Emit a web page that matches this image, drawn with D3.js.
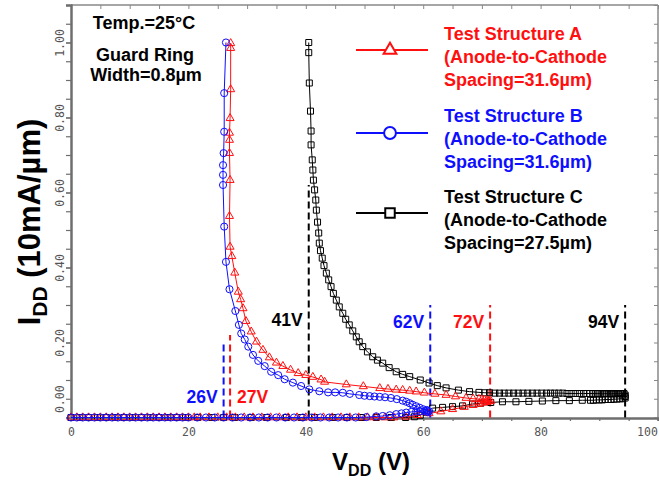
<!DOCTYPE html>
<html><head><meta charset="utf-8">
<script src="https://cdn.jsdelivr.net/npm/d3@7"></script>
<style>
html,body{margin:0;padding:0;background:#fff;}
svg{display:block;font-family:"Liberation Sans",Arial,sans-serif;}
</style></head>
<body><svg id="c" width="659" height="484"></svg>
<script>
// ---------- data (V in volts, I in 10mA/um) ----------
const offA = [0,1,2,3,4,5,6,7,8,9,10,11,12,13,14,15,16,17,18,19,20,21,22,23.5,25,26.5,28,29.5,31,32.5,34,35.5,37,38.5,40,41.5,43,44.5,46,47.5,49,50.5,52,53.5,55];
const lowA = [[57,0.002],[59,0.006],[61,0.011],[63,0.016],[65,0.022],[67,0.028],[68.5,0.033],[69.5,0.036],[70.2,0.039],[70.8,0.041],[71.2,0.043]];
const upA = [[71.5,0.044],[71.2,0.045],[70.8,0.046],[70.4,0.047],[70.0,0.048],[69.5,0.049],[68.5,0.050],[67.3,0.052],[65.5,0.056],[63.9,0.060],[62.0,0.063],[60.2,0.066],[58.8,0.069],[57.7,0.071],[56.5,0.073],[55.4,0.074],[54.0,0.076],[52.6,0.078],[49.8,0.083],[46.9,0.088],[43.2,0.095],[42.6,0.101],[41.2,0.108],[40.0,0.113],[38.7,0.118],[37.4,0.127],[36.1,0.137],[35.0,0.146],[33.8,0.160],[32.7,0.180],[31.6,0.202],[30.7,0.229],[29.8,0.257],[29.3,0.291],[28.9,0.315],[28.5,0.335],[27.9,0.386],[27.4,0.430],[27.1,0.455],[27.0,0.537],[27.1,0.633],[27.0,0.705],[27.0,0.740],[27.0,0.759],[27.1,0.798],[27.2,0.875],[27.2,0.985],[27.2,0.998]];

const offB = [0,1,2,3,4,5,6,7,8,9,10,11,12,13,14,15,16,17,18,19,20,21.5,23,24.5,26,27.5,29,30.5,32,33.5,35,36.5,38,39.5,41,42.5,44,45.5,47];
const lowB = [[48.5,0.000],[50.3,0.001],[52,0.003],[53.1,0.004],[54.3,0.006],[55.4,0.009],[56.3,0.011],[57.1,0.013],[58,0.015],[58.8,0.016],[59.5,0.017],[60.2,0.017],[60.7,0.018],[61.0,0.017]];
const upB = [[60.8,0.014],[60.6,0.020],[60.0,0.022],[59.4,0.026],[58.8,0.030],[58.2,0.034],[57.7,0.038],[57.1,0.042],[56.5,0.045],[55.5,0.049],[54.5,0.052],[53.5,0.054],[52.6,0.055],[51.7,0.056],[50.9,0.057],[50.0,0.058],[49.1,0.060],[47.5,0.063],[46.3,0.066],[45.0,0.067],[43.8,0.067],[42.3,0.070],[40.6,0.075],[39.2,0.084],[37.8,0.093],[36.4,0.102],[35.3,0.113],[34.1,0.122],[33.0,0.137],[31.9,0.151],[31.0,0.167],[30.2,0.189],[29.6,0.208],[29.0,0.224],[28.6,0.247],[28.0,0.284],[27.0,0.342],[26.4,0.415],[26.1,0.509],[25.9,0.620],[25.9,0.647],[25.9,0.673],[26.0,0.705],[26.1,0.762],[26.1,0.865],[26.4,1.000]];

const offC = [0,1.5,3,4.5,6,7.5,9,10.5,12,13.5,15,16.5,18,19.5,21.6,24,26,27.9,30.7,33.3,36.7,39.2,41.5,44.6,47,49.5,52,54.5,57];
const lowC = [[58.5,0.002],[59.5,0.006],[60.5,0.014],[61.6,0.025],[63.3,0.027],[65,0.029],[66.7,0.031],[68.4,0.036],[69.8,0.038],[71.5,0.040],[73.5,0.042],[75.8,0.042],[78,0.043],[80.3,0.044],[82.6,0.045],[84.9,0.045],[87.1,0.046],[88.5,0.046],[89,0.046],[89.5,0.047],[90,0.047],[90.5,0.047],[91,0.048],[91.5,0.048],[92,0.048],[92.5,0.049],[93,0.049],[93.5,0.050],[94,0.050],[94.4,0.052]];
const upC = [[94.4,0.056],[94.4,0.060],[94.2,0.064],[93.9,0.063],[93.6,0.064],[93.3,0.063],[93.0,0.064],[92.7,0.063],[92.4,0.064],[92.1,0.063],[91.8,0.064],[91.5,0.063],[91.2,0.064],[90.9,0.064],[90.5,0.063],[90.1,0.064],[89.7,0.064],[89.3,0.064],[88.9,0.064],[88.4,0.064],[87.9,0.064],[87.3,0.064],[86.6,0.064],[85.9,0.064],[85.2,0.064],[84.5,0.064],[83.8,0.065],[83.1,0.065],[82.4,0.065],[81.7,0.065],[81.0,0.065],[80.2,0.065],[79.4,0.065],[78.6,0.065],[77.8,0.065],[77.0,0.065],[76.2,0.065],[75.4,0.065],[74.6,0.065],[73.8,0.065],[73.0,0.065],[72.2,0.065],[71.3,0.066],[70.5,0.066],[69.5,0.067],[67.9,0.069],[66.0,0.073],[63.9,0.079],[62.4,0.085],[61.0,0.092],[59.5,0.100],[57.7,0.109],[56.5,0.115],[55.4,0.122],[54.2,0.133],[53.1,0.145],[52.2,0.153],[51.4,0.162],[50.5,0.175],[49.7,0.189],[49.1,0.202],[48.6,0.215],[48.0,0.231],[47.4,0.247],[46.8,0.262],[46.3,0.278],[45.7,0.295],[45.2,0.313],[44.7,0.331],[44.3,0.349],[43.9,0.367],[43.5,0.385],[43.1,0.405],[42.8,0.425],[42.5,0.445],[42.3,0.465],[42.2,0.492],[42.0,0.521],[41.8,0.553],[41.7,0.580],[41.5,0.607],[41.3,0.633],[41.2,0.660],[41.1,0.687],[40.9,0.727],[40.9,0.764],[40.8,0.817],[40.6,0.892],[40.5,0.973],[40.5,1.000]];

const seriesNames = ["Test Structure A","Test Structure B","Test Structure C"];
const seriesSpacing = ["(Anode-to-Cathode","(Anode-to-Cathode","(Anode-to-Cathode"];
const seriesSpacing2 = ["Spacing=31.6\u00b5m)","Spacing=31.6\u00b5m)","Spacing=27.5\u00b5m)"];

const dashV = [26.0, 27.1, 40.5, 61.2, 71.4, 94.4];
const dashTop = [0.20, 0.22, 0.62, 0.30, 0.30, 0.30];
const dashLabels = ["26V","27V","41V","62V","72V","94V"];
const dashLabelI = [0.038, 0.038, 0.244, 0.239, 0.239, 0.239];

const xTicks = [0,20,40,60,80,100];
const yTicks = [0,0.2,0.4,0.6,0.8,1.0];

// ---------- drawing ----------
const svg = d3.select("#c");
const x = d3.scaleLinear().domain([0,100]).range([71,658]);
const y = d3.scaleLinear().domain([0,1.1]).range([417.5,5]);

const RED="#ff0f0f", BLUE="#0f0fff", BLK="#000";
const dashColors=[BLUE,RED,BLK,BLUE,RED,BLK];
const dashSide=["l","r","l","l","l","l"];

// frame top/right
const axCol="#6e6e6e";
svg.append("line").attr("x1",71).attr("x2",658).attr("y1",5).attr("y2",5).attr("stroke","#888").attr("stroke-width",1.5);
svg.append("line").attr("x1",658).attr("x2",658).attr("y1",5).attr("y2",418).attr("stroke","#888").attr("stroke-width",1.5);

const minorX = d3.range(0,101,5), minorY = d3.range(0,1.101,0.05);
const gTop = svg.append("g").attr("transform","translate(0,5)")
  .call(d3.axisTop(x).tickValues(minorX).tickSize(-4).tickFormat(""));
const gRight = svg.append("g").attr("transform","translate(658,0)")
  .call(d3.axisRight(y).tickValues(minorY).tickSize(-4).tickFormat(""));
[gTop,gRight].forEach(g=>{g.select(".domain").remove();g.selectAll("line").attr("stroke","#888");});

// bottom axis
const gx = svg.append("g").attr("transform","translate(0,418)")
  .call(d3.axisBottom(x).tickValues(minorX).tickSize(3).tickFormat(""));
const gxl = svg.append("g").attr("transform","translate(0,418)")
  .call(d3.axisBottom(x).tickValues(xTicks).tickSize(3).tickFormat(d3.format("d")));
// left axis
const gy = svg.append("g").attr("transform","translate(71,0)")
  .call(d3.axisLeft(y).tickValues(minorY).tickSize(5).tickFormat(""));
const gyl = svg.append("g").attr("transform","translate(71,0)")
  .call(d3.axisLeft(y).tickValues(yTicks).tickSize(5).tickFormat(d3.format(".2f")));
[gx,gxl,gy,gyl].forEach(g=>{
  g.select(".domain").attr("stroke",axCol).attr("stroke-width",2);
  g.selectAll("line").attr("stroke",axCol).attr("stroke-width",1.2);
});
gxl.selectAll("text").attr("font-family","'DejaVu Sans Mono',monospace").attr("font-size",11.5)
  .attr("fill","#555").attr("y",10)
  .attr("dx",d=>d===100?-11:0);
gyl.selectAll("text").attr("font-family","'DejaVu Sans Mono',monospace").attr("font-size",11.5)
  .attr("fill","#555").attr("x",0).attr("dy",0).attr("text-anchor","middle")
  .attr("transform",d=>`translate(-7,${d===0?-18.75:0}) rotate(-90)`);

// dashed reference lines
dashV.forEach((v,i)=>{
  svg.append("line").attr("x1",x(v)).attr("x2",x(v)).attr("y1",y(0)).attr("y2",y(dashTop[i]))
    .attr("stroke",dashColors[i]).attr("stroke-width",2).attr("stroke-dasharray","7,4");
  svg.append("text").attr("x",x(v)+(dashSide[i]==="l"?-6:7)).attr("y",y(dashLabelI[i]))
    .attr("text-anchor",dashSide[i]==="l"?"end":"start")
    .attr("font-size",17.5).attr("font-weight","bold").attr("fill",dashColors[i]).text(dashLabels[i]);
});

// series
const line = d3.line().x(d=>x(d[0])).y(d=>y(d[1]));
const dataA = offA.map(v=>[v,0]).concat(lowA,upA);
const dataB = offB.map(v=>[v,0]).concat(lowB,upB);
const dataC = offC.map(v=>[v,0]).concat(lowC,upC);
const series = [
  {d:dataC,c:BLK,sym:d3.symbolSquare,size:36},
  {d:dataA,c:RED,sym:d3.symbolTriangle,size:28},
  {d:dataB,c:BLUE,sym:d3.symbolCircle,size:40}
];
series.forEach(s=>{
  svg.append("path").datum(s.d).attr("d",line).attr("fill","none").attr("stroke",s.c).attr("stroke-width",1);
  svg.append("g").selectAll("path").data(s.d).join("path")
    .attr("transform",d=>`translate(${x(d[0])},${y(d[1])})`)
    .attr("d",d3.symbol(s.sym,s.size)).attr("fill","none").attr("stroke",s.c).attr("stroke-width",1);
});

// legend
const legCols=[RED,BLUE,BLK], legSyms=[d3.symbolTriangle,d3.symbolCircle,d3.symbolSquare], legSizes=[70,110,90];
const legY=[50,133,213], legBase=[40,122,203];
for(let i=0;i<3;i++){
  svg.append("line").attr("x1",356).attr("x2",428).attr("y1",legY[i]).attr("y2",legY[i]).attr("stroke",legCols[i]).attr("stroke-width",2);
  svg.append("path").attr("transform",`translate(390,${legY[i]})`).attr("d",d3.symbol(legSyms[i],legSizes[i]))
    .attr("fill","#fff").attr("stroke",legCols[i]).attr("stroke-width",2);
  const t = svg.append("text").attr("x",444).attr("y",legBase[i]).attr("font-size",18).attr("font-weight","bold").attr("fill",legCols[i]);
  [seriesNames[i],seriesSpacing[i],seriesSpacing2[i]].forEach((s,k)=>t.append("tspan").attr("x",444).attr("dy",k?23:0).text(s));
}

// annotations
const ann = svg.append("text").attr("font-size",18).attr("font-weight","bold").attr("text-anchor","middle").attr("fill","#000");
ann.append("tspan").attr("x",144).attr("y",29).text("Temp.=25\u00b0C");
ann.append("tspan").attr("x",145).attr("y",61).text("Guard Ring");
ann.append("tspan").attr("x",146).attr("y",81).text("Width=0.8\u00b5m");

// axis titles
const xt = svg.append("text").attr("x",371).attr("y",470).attr("text-anchor","middle").attr("font-size",24).attr("font-weight","bold");
xt.append("tspan").text("V");
xt.append("tspan").attr("font-size",16).attr("dy",6).text("DD");
xt.append("tspan").attr("dy",-6).text(" (V)");
const yt = svg.append("text").attr("transform","translate(40,222) rotate(-90)").attr("text-anchor","middle").attr("font-size",31).attr("font-weight","bold");
yt.append("tspan").text("I");
yt.append("tspan").attr("font-size",21).attr("dy",7).text("DD");
yt.append("tspan").attr("dy",-7).text(" (10mA/\u00b5m)");
</script></body></html>
